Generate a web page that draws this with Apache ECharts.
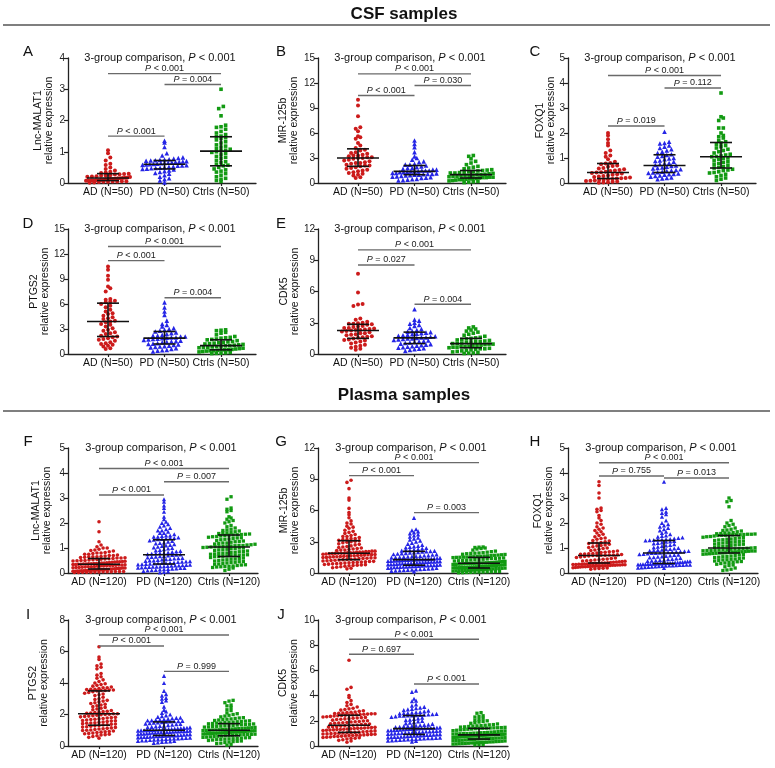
<!DOCTYPE html>
<html><head><meta charset="utf-8">
<script src="https://cdn.jsdelivr.net/npm/echarts@6/dist/echarts.min.js"></script>
<style>html,body{margin:0;padding:0;background:#fff}#c{width:775px;height:768px}</style>
</head><body><div id="c"></div><script>
// ---------- categories ----------
const csfCats = ['AD (N=50)', 'PD (N=50)', 'Ctrls (N=50)'];
const plasmaCats = ['AD (N=120)', 'PD (N=120)', 'Ctrls (N=120)'];
const sectionTitles = ['CSF samples', 'Plasma samples'];
const panelLetters = ['A','B','C','D','E','F','G','H','I','J'];
const yNames = ['Lnc-MALAT1','MiR-125b','FOXQ1','PTGS2','CDK5','Lnc-MALAT1','MiR-125b','FOXQ1','PTGS2','CDK5'];
const yMax = [4,15,5,15,12,5,12,5,8,10];
const yStep = [1,3,1,3,3,1,3,1,2,2];
const overallP = ['< 0.001','< 0.001','< 0.001','< 0.001','< 0.001','< 0.001','< 0.001','< 0.001','< 0.001','< 0.001'];
// pairs: AD-Ctrls, PD-Ctrls, AD-PD
const pairs = [[1,3],[2,3],[1,2]];

// ---------- Panel A: CSF Lnc-MALAT1 ----------
const A_AD = [1.05,0.95,0.82,0.72,0.62,0.58,0.5,0.45,0.4,0.36,0.34,0.32,0.3,0.29,0.28,0.27,0.25,0.24,0.23,0.22,0.21,0.2,0.19,0.18,0.17,0.16,0.15,0.15,0.14,0.13,0.13,0.12,0.11,0.1,0.1,0.09,0.09,0.08,0.08,0.07,0.07,0.06,0.06,0.05,0.05,0.04,0.04,0.03,0.02,0.01];
const A_PD = [1.35,1.3,1.15,0.95,0.88,0.82,0.8,0.78,0.76,0.75,0.74,0.73,0.72,0.71,0.7,0.69,0.68,0.67,0.66,0.65,0.64,0.63,0.62,0.61,0.6,0.59,0.58,0.57,0.56,0.55,0.53,0.52,0.5,0.49,0.48,0.47,0.46,0.45,0.43,0.4,0.38,0.35,0.32,0.3,0.25,0.2,0.15,0.12,0.08,0.02];
const A_Ctrls = [3.0,2.45,2.38,2.15,1.85,1.8,1.78,1.72,1.65,1.6,1.55,1.5,1.48,1.45,1.42,1.38,1.32,1.28,1.22,1.18,1.15,1.1,1.08,1.05,1.03,1.0,0.98,0.95,0.9,0.85,0.82,0.78,0.72,0.68,0.65,0.6,0.57,0.55,0.5,0.45,0.42,0.38,0.35,0.3,0.25,0.2,0.15,0.12,0.08,0.05];
const A_med = [0.16,0.6,1.02], A_q1 = [0.08,0.45,0.55], A_q3 = [0.3,0.72,1.48];
const A_pY = [3.5,3.15,1.5], A_pText = ['< 0.001','= 0.004','< 0.001'];

// ---------- Panel B: CSF MiR-125b ----------
const B_AD = [10.0,9.3,8.0,6.7,6.5,6.2,5.6,5.5,5.3,4.8,4.5,4.2,4.0,3.9,3.7,3.6,3.5,3.4,3.3,3.3,3.2,3.1,3.1,3.0,3.0,2.9,2.8,2.7,2.6,2.5,2.4,2.4,2.3,2.2,2.1,2.1,2.0,1.9,1.8,1.7,1.6,1.5,1.4,1.3,1.2,1.1,1.0,0.9,0.7,0.6];
const B_PD = [5.1,4.7,4.3,3.7,3.2,3.0,2.8,2.6,2.5,2.3,2.2,2.2,2.1,2.0,1.9,1.8,1.8,1.7,1.6,1.6,1.5,1.5,1.5,1.4,1.4,1.4,1.35,1.3,1.3,1.2,1.2,1.15,1.1,1.1,1.05,1.0,1.0,0.95,0.9,0.85,0.8,0.75,0.7,0.65,0.6,0.5,0.45,0.4,0.35,0.3];
const B_Ctrls = [3.3,3.2,2.9,2.6,2.4,2.2,2.0,1.9,1.8,1.7,1.6,1.55,1.5,1.45,1.4,1.35,1.3,1.25,1.2,1.2,1.15,1.1,1.05,1.0,1.0,0.95,0.9,0.9,0.85,0.8,0.8,0.75,0.7,0.7,0.65,0.65,0.6,0.55,0.5,0.5,0.45,0.4,0.4,0.35,0.3,0.25,0.2,0.15,0.1,0.05];
const B_med = [3.0,1.4,1.0], B_q1 = [2.0,1.0,0.6], B_q3 = [4.1,2.1,1.5];
const B_pY = [13.1,11.7,10.5], B_pText = ['< 0.001','= 0.030','< 0.001'];

// ---------- Panel C: CSF FOXQ1 ----------
const C_AD = [2.0,1.9,1.75,1.6,1.5,1.3,1.2,1.1,1.05,0.95,0.85,0.8,0.78,0.75,0.7,0.68,0.65,0.6,0.58,0.55,0.52,0.5,0.48,0.45,0.43,0.42,0.4,0.38,0.35,0.33,0.3,0.28,0.26,0.24,0.22,0.2,0.19,0.18,0.16,0.15,0.13,0.12,0.1,0.09,0.08,0.06,0.05,0.03,0.02,0.01];
const C_PD = [2.05,1.65,1.6,1.58,1.5,1.45,1.4,1.35,1.3,1.25,1.2,1.15,1.12,1.08,1.05,1.0,0.98,0.95,0.9,0.88,0.85,0.8,0.78,0.75,0.72,0.7,0.68,0.65,0.62,0.6,0.58,0.55,0.52,0.5,0.48,0.45,0.43,0.42,0.4,0.38,0.36,0.35,0.33,0.3,0.28,0.25,0.22,0.2,0.18,0.15];
const C_Ctrls = [3.6,2.65,2.6,2.5,2.2,2.2,2.0,1.9,1.85,1.8,1.7,1.65,1.6,1.55,1.5,1.45,1.4,1.35,1.3,1.25,1.2,1.15,1.12,1.08,1.06,1.05,1.0,0.98,0.95,0.9,0.85,0.82,0.78,0.75,0.7,0.65,0.62,0.6,0.55,0.52,0.5,0.45,0.42,0.4,0.35,0.3,0.25,0.2,0.15,0.1];
const C_med = [0.42,0.7,1.05], C_q1 = [0.18,0.42,0.6], C_q3 = [0.78,1.13,1.62];
const C_pY = [4.3,3.8,2.28], C_pText = ['< 0.001','= 0.112','= 0.019'];

// ---------- Panel D: CSF PTGS2 ----------
const D_AD = [10.5,10.1,9.4,8.9,8.1,7.9,7.5,6.6,6.5,6.4,6.3,6.2,6.0,5.8,5.6,5.3,5.1,4.9,4.8,4.6,4.4,4.3,4.2,4.0,3.9,3.8,3.6,3.5,3.3,3.1,2.9,2.8,2.6,2.5,2.4,2.2,2.1,2.0,1.9,1.8,1.7,1.6,1.4,1.3,1.2,1.1,1.0,0.9,0.7,0.6];
const D_PD = [6.2,5.6,5.1,4.7,4.0,3.6,3.5,3.3,3.1,3.0,2.9,2.8,2.7,2.6,2.5,2.4,2.3,2.2,2.2,2.1,2.1,2.0,2.0,1.95,1.9,1.85,1.8,1.75,1.7,1.6,1.55,1.5,1.45,1.4,1.3,1.25,1.2,1.15,1.1,1.0,0.95,0.9,0.85,0.8,0.7,0.6,0.5,0.45,0.4,0.3];
const D_Ctrls = [2.9,2.85,2.8,2.6,2.5,2.3,2.1,2.0,1.95,1.9,1.8,1.75,1.7,1.6,1.5,1.45,1.4,1.35,1.3,1.25,1.2,1.15,1.1,1.05,1.0,0.98,0.95,0.9,0.85,0.8,0.78,0.75,0.7,0.65,0.6,0.55,0.52,0.5,0.48,0.45,0.4,0.38,0.35,0.3,0.25,0.2,0.15,0.1,0.08,0.05];
const D_med = [3.9,1.9,1.0], D_q1 = [2.1,1.2,0.5], D_q3 = [6.1,2.7,1.7];
const D_pY = [12.9,6.75,11.2], D_pText = ['< 0.001','= 0.004','< 0.001'];

// ---------- Panel E: CSF CDK5 ----------
const E_AD = [7.7,5.9,4.8,4.75,4.6,3.4,3.3,3.1,3.0,2.95,2.9,2.9,2.85,2.8,2.7,2.65,2.6,2.5,2.5,2.45,2.4,2.35,2.3,2.3,2.25,2.2,2.15,2.1,2.0,2.0,1.9,1.85,1.8,1.7,1.65,1.6,1.55,1.5,1.4,1.35,1.3,1.2,1.1,1.0,0.9,0.8,0.7,0.6,0.5,0.4];
const E_PD = [4.3,3.3,3.2,3.0,2.9,2.8,2.7,2.5,2.4,2.3,2.2,2.15,2.1,2.05,2.0,1.95,1.9,1.85,1.8,1.75,1.7,1.65,1.6,1.6,1.55,1.5,1.5,1.45,1.4,1.35,1.3,1.25,1.2,1.15,1.1,1.05,1.0,0.95,0.9,0.85,0.8,0.75,0.7,0.65,0.6,0.55,0.5,0.45,0.4,0.3];
const E_Ctrls = [2.6,2.5,2.4,2.3,2.2,2.1,2.0,1.9,1.8,1.7,1.6,1.55,1.5,1.45,1.4,1.35,1.3,1.25,1.2,1.2,1.15,1.1,1.05,1.0,1.0,0.95,0.95,0.9,0.85,0.8,0.8,0.75,0.7,0.7,0.65,0.65,0.6,0.55,0.5,0.5,0.45,0.4,0.35,0.3,0.25,0.2,0.15,0.1,0.08,0.05];
const E_med = [2.25,1.55,1.0], E_q1 = [1.5,1.0,0.6], E_q3 = [2.85,2.1,1.5];
const E_pY = [10.0,4.77,8.55], E_pText = ['< 0.001','= 0.004','= 0.027'];

// ---------- Panel F: Plasma Lnc-MALAT1 ----------
const F_AD = [2.05,1.65,1.25,1.12,1.05,1.0,1.0,0.95,0.92,0.9,0.88,0.85,0.82,0.8,0.8,0.78,0.75,0.75,0.72,0.7,0.7,0.68,0.66,0.65,0.65,0.64,0.63,0.62,0.61,0.6,
 0.6,0.58,0.57,0.56,0.55,0.54,0.53,0.52,0.5,0.5,0.49,0.48,0.47,0.46,0.45,0.45,0.44,0.43,0.42,0.41,0.4,0.4,0.39,0.38,0.38,0.37,0.37,0.36,0.36,0.35,
 0.35,0.34,0.34,0.33,0.32,0.32,0.31,0.3,0.3,0.29,0.28,0.28,0.27,0.26,0.25,0.25,0.24,0.23,0.22,0.22,0.21,0.2,0.2,0.19,0.18,0.18,0.17,0.16,0.16,0.15,
 0.15,0.14,0.14,0.13,0.13,0.12,0.12,0.11,0.11,0.1,0.1,0.09,0.09,0.08,0.08,0.07,0.07,0.06,0.06,0.06,0.05,0.05,0.05,0.04,0.04,0.03,0.03,0.03,0.02,0.02];
const F_PD = [2.95,2.85,2.7,2.6,2.45,2.25,2.15,2.05,2.0,1.95,1.9,1.85,1.8,1.75,1.7,1.7,1.65,1.6,1.6,1.55,1.5,1.5,1.48,1.45,1.45,1.42,1.4,1.4,1.38,1.36,
 1.35,1.33,1.3,1.28,1.25,1.22,1.2,1.18,1.15,1.12,1.1,1.08,1.05,1.02,1.0,0.98,0.95,0.92,0.9,0.88,0.86,0.84,0.82,0.8,0.8,0.78,0.77,0.75,0.74,0.73,
 0.72,0.7,0.68,0.67,0.65,0.64,0.62,0.6,0.59,0.58,0.56,0.55,0.54,0.52,0.5,0.5,0.48,0.47,0.46,0.45,0.44,0.42,0.41,0.4,0.4,0.39,0.38,0.37,0.36,0.35,
 0.34,0.33,0.32,0.31,0.3,0.3,0.29,0.28,0.27,0.26,0.25,0.25,0.24,0.23,0.22,0.21,0.2,0.2,0.18,0.17,0.16,0.15,0.14,0.12,0.11,0.1,0.08,0.06,0.04,0.02];
const F_Ctrls = [3.05,2.95,2.6,2.55,2.5,2.45,2.25,2.2,2.15,2.1,2.05,2.0,1.9,1.85,1.8,1.75,1.72,1.7,1.68,1.65,1.62,1.6,1.6,1.58,1.56,1.55,1.54,1.53,1.52,1.51,
 1.5,1.48,1.46,1.45,1.43,1.41,1.4,1.38,1.36,1.35,1.33,1.3,1.28,1.26,1.25,1.23,1.2,1.2,1.18,1.16,1.15,1.13,1.12,1.1,1.1,1.09,1.08,1.07,1.06,1.05,
 1.05,1.04,1.03,1.02,1.0,1.0,0.98,0.97,0.95,0.93,0.92,0.9,0.88,0.86,0.85,0.83,0.82,0.8,0.79,0.78,0.76,0.75,0.73,0.72,0.71,0.7,0.69,0.68,0.67,0.66,
 0.65,0.62,0.6,0.58,0.56,0.55,0.53,0.52,0.5,0.48,0.46,0.45,0.43,0.42,0.4,0.38,0.36,0.35,0.33,0.32,0.3,0.28,0.27,0.26,0.25,0.24,0.22,0.2,0.15,0.1];
const F_med = [0.35,0.73,1.04], F_q1 = [0.16,0.36,0.66], F_q3 = [0.58,1.33,1.52];
const F_pY = [4.18,3.65,3.12], F_pText = ['< 0.001','= 0.007','< 0.001'];

// ---------- Panel G: Plasma MiR-125b ----------
const G_AD = [8.9,8.7,8.1,7.2,7.0,6.2,5.8,5.6,5.3,5.0,4.8,4.7,4.5,4.4,4.3,4.1,4.0,3.9,3.8,3.7,3.6,3.5,3.5,3.4,3.3,3.3,3.2,3.2,3.15,3.1,
 3.05,3.0,2.95,2.9,2.8,2.75,2.7,2.6,2.55,2.5,2.45,2.4,2.35,2.3,2.25,2.2,2.2,2.15,2.1,2.1,2.05,2.05,2.0,2.0,2.0,1.95,1.95,1.95,1.9,1.9,
 1.9,1.88,1.86,1.85,1.82,1.8,1.78,1.76,1.75,1.72,1.7,1.68,1.66,1.65,1.62,1.6,1.58,1.56,1.55,1.52,1.5,1.48,1.46,1.45,1.42,1.4,1.38,1.35,1.32,1.3,
 1.28,1.25,1.22,1.2,1.18,1.15,1.12,1.1,1.08,1.05,1.02,1.0,0.98,0.95,0.92,0.9,0.88,0.85,0.82,0.8,0.78,0.75,0.72,0.7,0.65,0.6,0.55,0.5,0.45,0.4];
const G_PD = [5.3,4.2,4.1,4.0,3.9,3.8,3.7,3.6,3.5,3.4,3.3,3.2,3.1,3.0,2.9,2.8,2.7,2.6,2.55,2.5,2.45,2.4,2.35,2.3,2.25,2.2,2.2,2.15,2.12,2.1,
 2.08,2.05,2.0,1.98,1.95,1.9,1.88,1.85,1.8,1.78,1.75,1.7,1.68,1.65,1.62,1.6,1.58,1.55,1.52,1.5,1.48,1.45,1.42,1.4,1.38,1.36,1.34,1.33,1.32,1.3,
 1.3,1.28,1.26,1.25,1.23,1.22,1.2,1.18,1.16,1.15,1.13,1.12,1.1,1.08,1.06,1.05,1.03,1.02,1.0,0.98,0.96,0.95,0.93,0.92,0.9,0.88,0.86,0.84,0.82,0.8,
 0.78,0.76,0.75,0.73,0.72,0.7,0.68,0.66,0.65,0.63,0.62,0.6,0.58,0.56,0.55,0.52,0.5,0.48,0.45,0.42,0.4,0.38,0.35,0.32,0.3,0.28,0.25,0.22,0.2,0.15];
const G_Ctrls = [2.5,2.48,2.45,2.4,2.35,2.3,2.2,2.1,2.05,2.0,1.95,1.92,1.9,1.88,1.85,1.8,1.78,1.75,1.72,1.7,1.68,1.65,1.62,1.6,1.58,1.56,1.55,1.53,1.52,1.51,
 1.5,1.48,1.45,1.42,1.4,1.38,1.35,1.32,1.3,1.28,1.25,1.22,1.2,1.18,1.15,1.12,1.1,1.08,1.05,1.03,1.0,0.99,0.98,0.97,0.96,0.95,0.94,0.93,0.92,0.91,
 0.9,0.88,0.86,0.85,0.83,0.82,0.8,0.78,0.76,0.75,0.73,0.72,0.7,0.68,0.66,0.65,0.63,0.62,0.6,0.59,0.58,0.57,0.56,0.55,0.54,0.53,0.52,0.51,0.5,0.5,
 0.49,0.47,0.45,0.43,0.42,0.4,0.38,0.36,0.35,0.33,0.32,0.3,0.28,0.26,0.25,0.23,0.22,0.2,0.18,0.16,0.15,0.13,0.12,0.1,0.09,0.08,0.06,0.05,0.03,0.02];
const G_med = [1.9,1.28,0.93], G_q1 = [1.28,0.75,0.48], G_q3 = [3.1,2.08,1.5];
const G_pY = [10.6,5.8,9.35], G_pText = ['< 0.001','= 0.003','< 0.001'];

// ---------- Panel H: Plasma FOXQ1 ----------
const H_AD = [3.65,3.5,3.2,3.0,2.6,2.55,2.5,2.45,2.3,2.2,2.1,2.0,1.95,1.85,1.8,1.75,1.7,1.65,1.6,1.55,1.5,1.45,1.4,1.38,1.35,1.3,1.28,1.25,1.22,1.2,
 1.2,1.18,1.15,1.12,1.1,1.08,1.05,1.02,1.0,0.98,0.95,0.92,0.9,0.88,0.86,0.85,0.83,0.82,0.8,0.78,0.77,0.76,0.75,0.74,0.73,0.72,0.72,0.71,0.71,0.7,
 0.7,0.68,0.66,0.64,0.62,0.6,0.58,0.56,0.55,0.53,0.52,0.5,0.49,0.48,0.47,0.46,0.45,0.44,0.43,0.42,0.41,0.4,0.4,0.39,0.38,0.38,0.37,0.36,0.36,0.35,
 0.35,0.34,0.34,0.33,0.33,0.32,0.32,0.31,0.31,0.3,0.3,0.29,0.29,0.28,0.28,0.27,0.27,0.26,0.26,0.25,0.25,0.24,0.23,0.22,0.21,0.2,0.19,0.18,0.17,0.15];
const H_PD = [3.65,2.6,2.55,2.45,2.4,2.35,2.25,2.1,2.0,1.95,1.9,1.85,1.8,1.75,1.7,1.65,1.6,1.55,1.5,1.48,1.45,1.42,1.4,1.38,1.36,1.35,1.34,1.33,1.32,1.31,
 1.3,1.28,1.26,1.25,1.22,1.2,1.18,1.15,1.12,1.1,1.08,1.05,1.02,1.0,0.98,0.96,0.95,0.93,0.92,0.9,0.89,0.88,0.87,0.86,0.85,0.84,0.83,0.82,0.81,0.8,
 0.8,0.78,0.76,0.75,0.73,0.72,0.7,0.68,0.66,0.65,0.63,0.62,0.6,0.58,0.56,0.55,0.53,0.52,0.5,0.49,0.48,0.47,0.46,0.45,0.44,0.43,0.42,0.42,0.41,0.4,
 0.4,0.39,0.39,0.38,0.38,0.37,0.37,0.36,0.36,0.35,0.35,0.34,0.34,0.33,0.33,0.32,0.32,0.31,0.3,0.3,0.29,0.28,0.27,0.26,0.25,0.24,0.23,0.22,0.21,0.2];
const H_Ctrls = [3.0,2.9,2.85,2.65,2.1,2.0,1.95,1.9,1.85,1.8,1.75,1.72,1.7,1.68,1.65,1.62,1.6,1.6,1.58,1.57,1.56,1.55,1.55,1.54,1.53,1.53,1.52,1.52,1.51,1.51,
 1.5,1.48,1.46,1.45,1.43,1.42,1.4,1.38,1.36,1.35,1.33,1.32,1.3,1.28,1.26,1.25,1.23,1.22,1.2,1.18,1.16,1.15,1.13,1.12,1.1,1.08,1.06,1.05,1.03,1.01,
 1.0,0.99,0.98,0.97,0.96,0.95,0.94,0.93,0.92,0.91,0.9,0.9,0.89,0.88,0.88,0.87,0.86,0.85,0.85,0.84,0.83,0.82,0.81,0.8,0.8,0.79,0.78,0.77,0.76,0.75,
 0.74,0.72,0.7,0.68,0.66,0.65,0.63,0.62,0.6,0.58,0.56,0.55,0.53,0.52,0.5,0.48,0.46,0.45,0.43,0.42,0.4,0.38,0.35,0.32,0.3,0.25,0.2,0.15,0.12,0.1];
const H_med = [0.7,0.8,1.0], H_q1 = [0.4,0.38,0.8], H_q3 = [1.2,1.3,1.5];
const H_pY = [4.41,3.8,3.88], H_pText = ['< 0.001','= 0.013','= 0.755'];

// ---------- Panel I: Plasma PTGS2 ----------
const I_AD = [6.3,5.65,5.5,5.2,5.1,5.0,4.9,4.6,4.5,4.4,4.3,4.2,4.1,4.0,3.95,3.9,3.85,3.8,3.75,3.7,3.7,3.65,3.6,3.6,3.58,3.56,3.55,3.53,3.52,3.5,
 3.45,3.4,3.35,3.3,3.25,3.2,3.1,3.0,2.95,2.9,2.85,2.8,2.75,2.7,2.65,2.6,2.55,2.5,2.45,2.4,2.35,2.3,2.25,2.2,2.18,2.15,2.12,2.1,2.08,2.05,
 2.05,2.02,2.0,1.98,1.95,1.92,1.9,1.88,1.85,1.82,1.8,1.78,1.75,1.72,1.7,1.68,1.65,1.62,1.6,1.58,1.55,1.52,1.5,1.48,1.46,1.44,1.42,1.4,1.38,1.35,
 1.33,1.3,1.28,1.25,1.22,1.2,1.18,1.15,1.12,1.1,1.08,1.05,1.02,1.0,0.98,0.95,0.92,0.9,0.88,0.85,0.82,0.8,0.78,0.75,0.72,0.7,0.65,0.6,0.55,0.5];
const I_PD = [4.45,4.0,3.5,3.3,3.2,3.05,3.0,2.9,2.8,2.5,2.3,2.2,2.1,2.0,1.95,1.9,1.85,1.8,1.78,1.75,1.72,1.7,1.68,1.65,1.63,1.62,1.6,1.58,1.57,1.56,
 1.55,1.52,1.5,1.48,1.45,1.42,1.4,1.38,1.35,1.32,1.3,1.28,1.25,1.22,1.2,1.18,1.16,1.15,1.13,1.12,1.1,1.09,1.08,1.07,1.06,1.05,1.04,1.03,1.02,1.01,
 1.0,0.99,0.98,0.97,0.96,0.95,0.94,0.93,0.92,0.91,0.9,0.89,0.88,0.87,0.86,0.85,0.84,0.82,0.8,0.79,0.78,0.76,0.75,0.73,0.72,0.7,0.69,0.68,0.67,0.66,
 0.65,0.64,0.63,0.62,0.61,0.6,0.58,0.57,0.56,0.55,0.53,0.52,0.5,0.49,0.48,0.46,0.45,0.43,0.42,0.4,0.38,0.36,0.35,0.33,0.32,0.3,0.28,0.26,0.23,0.2];
const I_Ctrls = [2.9,2.85,2.75,2.6,2.55,2.45,2.3,2.25,2.1,2.05,2.0,1.95,1.9,1.85,1.8,1.78,1.75,1.72,1.7,1.68,1.65,1.62,1.6,1.58,1.56,1.54,1.52,1.5,1.48,1.46,
 1.45,1.43,1.41,1.4,1.38,1.36,1.35,1.33,1.31,1.3,1.28,1.26,1.25,1.23,1.21,1.2,1.18,1.16,1.15,1.13,1.12,1.1,1.09,1.08,1.07,1.06,1.05,1.03,1.02,1.01,
 1.0,0.99,0.98,0.97,0.96,0.95,0.94,0.93,0.92,0.91,0.9,0.89,0.88,0.87,0.86,0.85,0.84,0.83,0.82,0.81,0.8,0.79,0.78,0.77,0.76,0.75,0.74,0.73,0.72,0.71,
 0.7,0.68,0.66,0.65,0.63,0.62,0.6,0.58,0.56,0.55,0.53,0.52,0.5,0.48,0.46,0.45,0.43,0.42,0.4,0.38,0.35,0.32,0.3,0.28,0.25,0.22,0.18,0.15,0.1,0.05];
const I_med = [2.05,1.0,1.0], I_q1 = [1.32,0.67,0.65], I_q3 = [3.5,1.53,1.42];
const I_pY = [7.05,4.74,6.35], I_pText = ['< 0.001','= 0.999','< 0.001'];

// ---------- Panel J: Plasma CDK5 ----------
const J_AD = [6.8,4.65,4.5,4.0,3.85,3.6,3.45,3.3,3.2,3.1,3.0,2.95,2.9,2.85,2.8,2.75,2.7,2.68,2.65,2.62,2.6,2.58,2.56,2.55,2.53,2.52,2.5,2.48,2.47,2.46,
 2.45,2.42,2.4,2.38,2.35,2.32,2.3,2.27,2.25,2.22,2.2,2.17,2.15,2.12,2.1,2.05,2.0,1.98,1.95,1.92,1.9,1.87,1.85,1.82,1.8,1.77,1.75,1.72,1.7,1.67,
 1.65,1.62,1.6,1.58,1.55,1.53,1.5,1.48,1.46,1.45,1.43,1.41,1.4,1.38,1.36,1.35,1.33,1.31,1.3,1.28,1.26,1.25,1.23,1.2,1.18,1.15,1.13,1.1,1.08,1.06,
 1.05,1.03,1.02,1.0,0.98,0.96,0.95,0.93,0.92,0.9,0.88,0.86,0.85,0.83,0.82,0.8,0.78,0.76,0.75,0.72,0.7,0.68,0.65,0.62,0.6,0.55,0.5,0.45,0.4,0.3];
const J_PD = [4.4,4.3,3.75,3.6,3.55,3.3,3.2,3.1,3.05,3.0,2.95,2.9,2.85,2.8,2.75,2.7,2.68,2.65,2.62,2.6,2.58,2.55,2.52,2.5,2.48,2.46,2.45,2.43,2.42,2.41,
 2.4,2.35,2.3,2.25,2.2,2.15,2.1,2.05,2.0,1.95,1.9,1.85,1.8,1.75,1.7,1.68,1.65,1.62,1.6,1.58,1.55,1.52,1.5,1.48,1.46,1.45,1.44,1.43,1.42,1.41,
 1.4,1.38,1.36,1.35,1.33,1.31,1.3,1.28,1.26,1.25,1.23,1.21,1.2,1.18,1.16,1.15,1.13,1.11,1.1,1.08,1.06,1.05,1.03,1.01,1.0,0.98,0.96,0.94,0.92,0.9,
 0.89,0.88,0.86,0.85,0.83,0.82,0.8,0.78,0.76,0.75,0.73,0.72,0.7,0.68,0.66,0.65,0.63,0.62,0.6,0.58,0.56,0.55,0.52,0.5,0.48,0.46,0.44,0.42,0.4,0.35];
const J_Ctrls = [2.65,2.6,2.4,2.35,2.3,2.2,2.1,2.05,2.0,1.95,1.9,1.85,1.8,1.75,1.7,1.68,1.65,1.62,1.6,1.58,1.55,1.52,1.5,1.48,1.46,1.45,1.44,1.43,1.42,1.41,
 1.4,1.38,1.35,1.33,1.3,1.28,1.25,1.22,1.2,1.18,1.15,1.12,1.1,1.08,1.06,1.05,1.03,1.02,1.0,0.99,0.98,0.97,0.96,0.95,0.94,0.93,0.92,0.92,0.91,0.9,
 0.9,0.89,0.88,0.87,0.86,0.85,0.84,0.83,0.82,0.81,0.8,0.79,0.78,0.77,0.76,0.75,0.74,0.72,0.7,0.69,0.68,0.66,0.65,0.63,0.62,0.6,0.59,0.58,0.57,0.56,
 0.55,0.53,0.52,0.5,0.48,0.46,0.45,0.43,0.42,0.4,0.38,0.36,0.35,0.33,0.32,0.3,0.28,0.27,0.26,0.25,0.24,0.22,0.2,0.19,0.18,0.16,0.15,0.13,0.12,0.1];
const J_med = [1.65,1.38,0.88], J_q1 = [1.08,0.92,0.55], J_q3 = [2.44,2.42,1.4];
const J_pY = [8.47,4.92,7.28], J_pText = ['< 0.001','< 0.001','= 0.697'];

// ---------- layout & style ----------
const FONT = '"Liberation Sans", Arial, Helvetica, sans-serif';
const COLORS = ['#cc1b1b', '#2525e6', '#129a12'];
const SYMBOLS = ['circle', 'triangle', 'rect'];
const LAYOUT = {
  csf:    {xMin: 0.292, xMax: 3.619, w: 188, size: [4, 4.6, 3.6], binH: 4, dx: 4.6, maxW: 44, cats: csfCats},
  plasma: {xMin: 0.523, xMax: 3.446, w: 190, size: [3.6, 4.2, 3.3], binH: 3.4, dx: 4.1, maxW: 52, cats: plasmaCats}
};
const panels = [
  {set:'csf', left:68, top:58, h:125, gap:13, d:[A_AD,A_PD,A_Ctrls], med:A_med, q1:A_q1, q3:A_q3, pY:A_pY, pT:A_pText, lx:28, ly:52},
  {set:'csf', left:318, top:58, h:125, gap:18, d:[B_AD,B_PD,B_Ctrls], med:B_med, q1:B_q1, q3:B_q3, pY:B_pY, pT:B_pText, lx:281, ly:52},
  {set:'csf', left:568, top:58, h:125, gap:11, d:[C_AD,C_PD,C_Ctrls], med:C_med, q1:C_q1, q3:C_q3, pY:C_pY, pT:C_pText, lx:535, ly:52},
  {set:'csf', left:68, top:229, h:125, gap:17, d:[D_AD,D_PD,D_Ctrls], med:D_med, q1:D_q1, q3:D_q3, pY:D_pY, pT:D_pText, lx:28, ly:224},
  {set:'csf', left:318, top:229, h:125, gap:17, d:[E_AD,E_PD,E_Ctrls], med:E_med, q1:E_q1, q3:E_q3, pY:E_pY, pT:E_pText, lx:281, ly:224},
  {set:'plasma', left:68, top:448, h:125, gap:15, d:[F_AD,F_PD,F_Ctrls], med:F_med, q1:F_q1, q3:F_q3, pY:F_pY, pT:F_pText, lx:28, ly:442},
  {set:'plasma', left:318, top:448, h:125, gap:17, d:[G_AD,G_PD,G_Ctrls], med:G_med, q1:G_q1, q3:G_q3, pY:G_pY, pT:G_pText, lx:281, ly:442},
  {set:'plasma', left:568, top:448, h:125, gap:13, d:[H_AD,H_PD,H_Ctrls], med:H_med, q1:H_q1, q3:H_q3, pY:H_pY, pT:H_pText, lx:535, ly:442},
  {set:'plasma', left:68, top:620, h:126, gap:18, d:[I_AD,I_PD,I_Ctrls], med:I_med, q1:I_q1, q3:I_q3, pY:I_pY, pT:I_pText, lx:28, ly:615},
  {set:'plasma', left:318, top:620, h:126, gap:18, d:[J_AD,J_PD,J_Ctrls], med:J_med, q1:J_q1, q3:J_q3, pY:J_pY, pT:J_pText, lx:281, ly:615}
];

// Prism-like binned scatter: x offsets computed from value rows
function swarm(vals, cat, pxY, pxX, L) {
  const sorted = vals.slice().sort((a, b) => a - b);
  const bins = new Map();
  sorted.forEach(v => {
    const b = Math.round(v * pxY / L.binH);
    if (!bins.has(b)) bins.set(b, []);
    bins.get(b).push(v);
  });
  const out = [];
  bins.forEach(arr => {
    const n = arr.length;
    let d = L.dx;
    if (n > 1 && (n - 1) * d > L.maxW) d = L.maxW / (n - 1);
    arr.forEach((v, i) => out.push([cat + (i - (n - 1) / 2) * d / pxX, v]));
  });
  return out;
}

function renderIQR(params, api) {
  const x = api.value(0);
  const p1 = api.coord([x, api.value(1)]);
  const pm = api.coord([x, api.value(2)]);
  const p3 = api.coord([x, api.value(3)]);
  const st = {stroke: '#111', lineWidth: 1.6};
  const hw = 21, cw = 11;
  return {type: 'group', children: [
    {type: 'line', shape: {x1: pm[0] - hw, y1: pm[1], x2: pm[0] + hw, y2: pm[1]}, style: st},
    {type: 'line', shape: {x1: p1[0], y1: p1[1], x2: p3[0], y2: p3[1]}, style: st},
    {type: 'line', shape: {x1: p1[0] - cw, y1: p1[1], x2: p1[0] + cw, y2: p1[1]}, style: st},
    {type: 'line', shape: {x1: p3[0] - cw, y1: p3[1], x2: p3[0] + cw, y2: p3[1]}, style: st}
  ]};
}

function makeBracket(texts) {
  return function (params, api) {
    const a = api.coord([api.value(0), api.value(2)]);
    const b = api.coord([api.value(1), api.value(2)]);
    const t = texts[params.dataIndex];
    return {type: 'group', children: [
      {type: 'line', shape: {x1: a[0], y1: a[1], x2: b[0], y2: b[1]}, style: {stroke: '#6a6a6a', lineWidth: 1.4}},
      {type: 'text', x: (a[0] + b[0]) / 2, y: a[1] - 0.5, style: {
        text: '{i|P} ' + t, textAlign: 'center', textVerticalAlign: 'bottom',
        fontSize: 9, fontFamily: FONT, fill: '#222',
        rich: {i: {fontStyle: 'italic', fontSize: 9, fontFamily: FONT, fill: '#222', color: '#222'}}
      }}
    ]};
  };
}

const grids = [], xAxes = [], yAxes = [], series = [], graphics = [];
const axisLine = {show: true, lineStyle: {color: '#222', width: 1.3}};
panels.forEach((p, i) => {
  const L = LAYOUT[p.set];
  grids.push({left: p.left, top: p.top, width: L.w, height: p.h});
  xAxes.push({
    type: 'value', gridIndex: i, min: L.xMin, max: L.xMax,
    axisLine: axisLine,
    axisTick: {show: true, customValues: [1, 2, 3], length: 3, lineStyle: {color: '#222', width: 1.2}},
    axisLabel: {show: true, customValues: [1, 2, 3], formatter: v => L.cats[Math.round(v) - 1],
      fontSize: 10.5, color: '#111', margin: 4, fontFamily: FONT},
    splitLine: {show: false}
  });
  yAxes.push({
    type: 'value', gridIndex: i, min: 0, max: yMax[i], interval: yStep[i],
    name: yNames[i] + '\nrelative expression', nameLocation: 'middle', nameRotate: 90,
    nameGap: p.gap, nameMoveOverlap: false,
    nameTextStyle: {fontSize: 10.5, lineHeight: 11.5, color: '#111', fontFamily: FONT},
    axisLine: axisLine,
    axisTick: {show: true, length: 4, lineStyle: {color: '#222', width: 1.2}},
    axisLabel: {fontSize: 10, color: '#222', margin: 3, fontFamily: FONT},
    splitLine: {show: false}
  });
  const pxY = p.h / yMax[i], pxX = L.w / (L.xMax - L.xMin);
  for (let g = 0; g < 3; g++) {
    series.push({
      type: 'scatter', xAxisIndex: i, yAxisIndex: i, silent: true, z: 2,
      symbol: SYMBOLS[g], symbolSize: L.size[g],
      itemStyle: {color: COLORS[g], opacity: 1},
      data: swarm(p.d[g], g + 1, pxY, pxX, L)
    });
  }
  series.push({
    type: 'custom', xAxisIndex: i, yAxisIndex: i, silent: true, z: 5,
    renderItem: renderIQR, encode: {x: 0, y: [1, 2, 3]},
    data: [0, 1, 2].map(g => [g + 1, p.q1[g], p.med[g], p.q3[g]])
  });
  series.push({
    type: 'custom', xAxisIndex: i, yAxisIndex: i, silent: true, z: 4,
    renderItem: makeBracket(p.pT), encode: {x: [0, 1], y: 2},
    data: pairs.map((pr, k) => [pr[0], pr[1], p.pY[k]])
  });
  graphics.push({type: 'text', x: p.left + L.w / 2 - 2, y: p.top, silent: true, style: {
    text: '3-group comparison, {i|P} ' + overallP[i], textAlign: 'center', textVerticalAlign: 'middle',
    fontSize: 11, fontFamily: FONT, fill: '#111',
    rich: {i: {fontStyle: 'italic', fontSize: 11, fontFamily: FONT, fill: '#111', color: '#111'}}
  }});
  graphics.push({type: 'text', x: p.lx, y: p.ly, silent: true, style: {
    text: panelLetters[i], textAlign: 'center', textVerticalAlign: 'middle',
    fontSize: 15, fontFamily: FONT, fill: '#111'
  }});
});
[[sectionTitles[0], 14, 25], [sectionTitles[1], 395, 411]].forEach(s => {
  graphics.push({type: 'text', x: 404, y: s[1], silent: true, style: {
    text: s[0], textAlign: 'center', textVerticalAlign: 'middle',
    fontSize: 17, fontWeight: 'bold', fontFamily: FONT, fill: '#111'
  }});
  graphics.push({type: 'line', silent: true, shape: {x1: 3, y1: s[2], x2: 770, y2: s[2]},
    style: {stroke: '#555', lineWidth: 1.3}});
});

const chart = echarts.init(document.getElementById('c'), null, {renderer: 'canvas'});
chart.setOption({
  animation: false,
  backgroundColor: '#fff',
  grid: grids, xAxis: xAxes, yAxis: yAxes, series: series,
  graphic: graphics
});
</script></body></html>
